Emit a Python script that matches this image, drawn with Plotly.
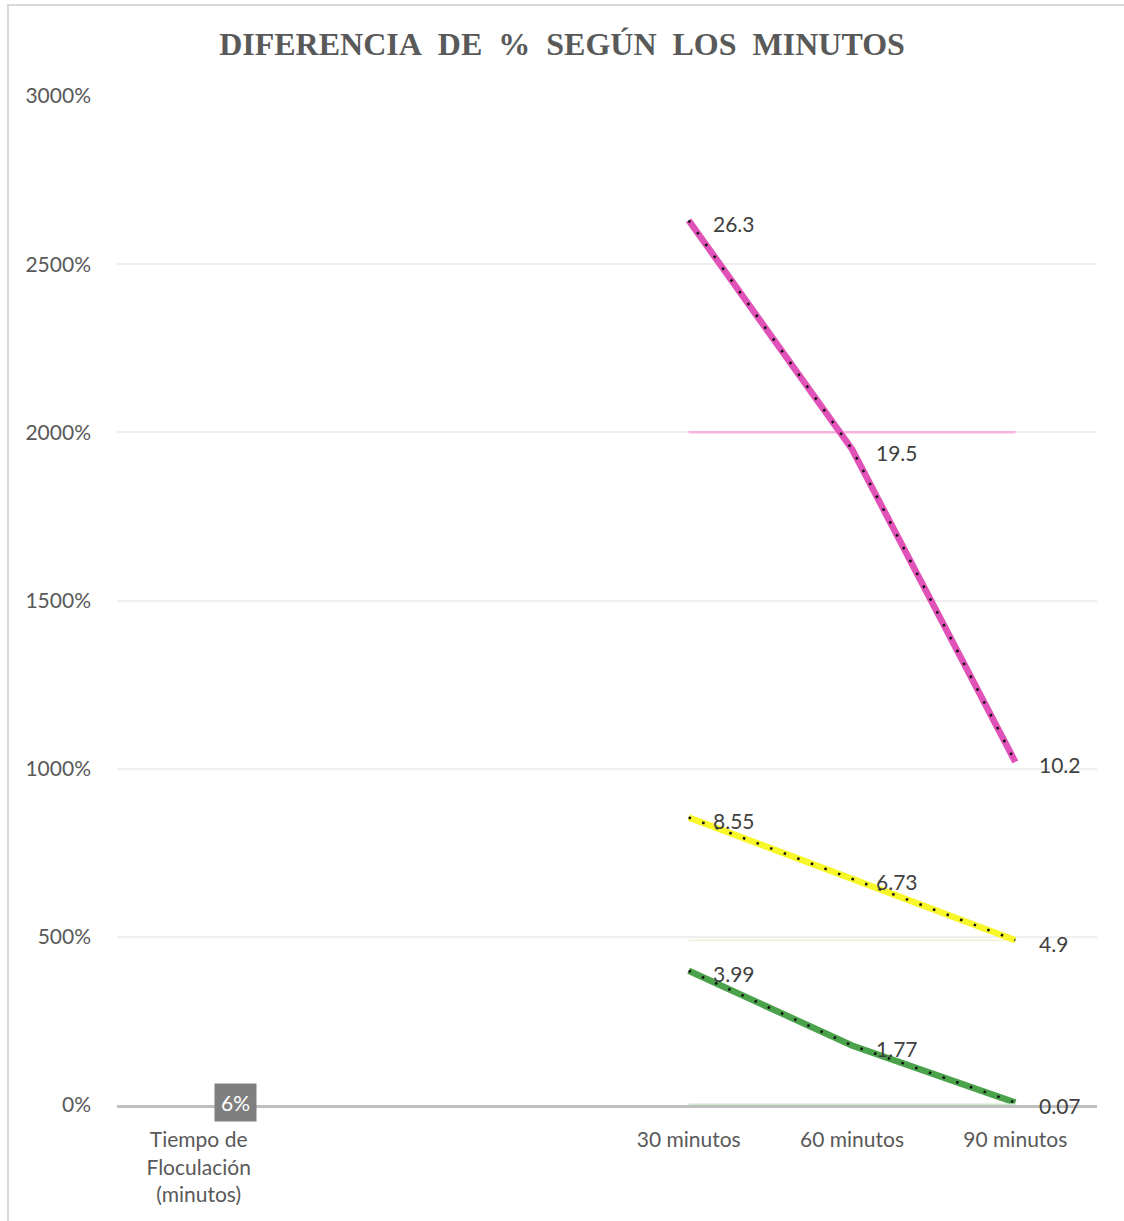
import plotly.graph_objects as go

# ---- data ----
categories = ["Tiempo de<br>Floculación<br>(minutos)", "", "", "30 minutos", "60 minutos", "90 minutos"]
x_idx = list(range(len(categories)))
serie_rosa = [None, None, None, 26.3, 19.5, 10.2]
serie_amarilla = [None, None, None, 8.55, 6.73, 4.9]
serie_verde = [None, None, None, 3.99, 1.77, 0.07]
serie_base = [0.06, None, None, None, None, None]
y_ticks = [0, 5, 10, 15, 20, 25, 30]
title_words = ["DIFERENCIA", "DE", "%", "SEGÚN", "LOS", "MINUTOS"]

TXT = "#595959"
LBL = "#404040"
FONT = "Lato"

fig = go.Figure()

series = [
    (serie_rosa, "#e152b8"),
    (serie_amarilla, "#f7f72a"),
    (serie_verde, "#4aa34a"),
]

i30 = categories.index("30 minutos")
i90 = categories.index("90 minutos")
shapes = [
    dict(type="line", xref="x", yref="y", x0=x_idx[i30], x1=x_idx[i90], y0=y_ticks[4], y1=y_ticks[4],
         line=dict(color="#f5b3de", width=2.5), layer="between"),
    dict(type="line", xref="x", yref="y", x0=x_idx[i30], x1=x_idx[i90], y0=serie_amarilla[-1], y1=serie_amarilla[-1],
         line=dict(color="#f3f3dc", width=2), layer="between"),
    dict(type="line", xref="x", yref="y", x0=x_idx[i30], x1=x_idx[i90], y0=0, y1=0,
         line=dict(color="#cfe8cf", width=3), layer="above"),
    # outer frame (only top & left fall inside the picture)
    dict(type="rect", xref="paper", yref="paper", x0=-0.1112, x1=1.3, y0=-0.4, y1=1.0902,
         line=dict(color="#d9d9d9", width=2), layer="below"),
]

for vals, col in series:
    fig.add_trace(go.Scatter(x=x_idx, y=vals, mode="lines", line=dict(color=col, width=6.5),
                             hoverinfo="skip", showlegend=False))
    fig.add_trace(go.Scatter(x=x_idx, y=vals, mode="lines",
                             line=dict(color="#111111", width=2.5, dash="2.5px,12px"),
                             hoverinfo="skip", showlegend=False))

annotations = []
for vals, col in series:
    for xi, v in zip(x_idx, vals):
        if v is None:
            continue
        annotations.append(dict(x=xi, y=v, xref="x", yref="y", text=f"{v:g}", showarrow=False,
                                xanchor="left", yanchor="middle", xshift=22, yshift=-3,
                                font=dict(family=FONT, size=21, color=LBL)))

for xi, v in zip(x_idx, serie_base):
    if v is None:
        continue
    annotations.append(dict(x=xi, y=v, xref="x", yref="y", text=f"{v:.0%}", showarrow=False,
                            xanchor="left", yanchor="middle", xshift=15,
                            bgcolor="#7f7f7f", borderpad=6,
                            font=dict(family=FONT, size=21, color="white")))

title_text = "<b>" + "\u00a0 ".join(title_words) + "</b>"

fig.update_layout(
    width=1124, height=1221,
    margin=dict(l=117, r=27, t=96, b=116),
    paper_bgcolor="white", plot_bgcolor="white",
    title=dict(text=title_text, x=0.5, xref="container",
               y=1 - 44 / 1221, yanchor="middle",
               font=dict(family="Liberation Serif", size=32, color=TXT)),
    shapes=shapes,
    annotations=annotations,
    showlegend=False,
)

fig.update_xaxes(range=[-0.5, len(categories) - 0.5], tickmode="array", tickvals=x_idx, ticktext=categories,
                 showgrid=False, zeroline=False, showline=True, linecolor="#bfbfbf", linewidth=3,
                 ticks="", ticklabelstandoff=14,
                 tickfont=dict(family=FONT, size=21, color=TXT))
fig.update_yaxes(range=[0, 30], tickmode="array", tickvals=y_ticks, tickformat=".0%",
                 showgrid=True, gridcolor="#efefef", gridwidth=2, zeroline=False, showline=False,
                 ticks="", ticklabelstandoff=25,
                 tickfont=dict(family=FONT, size=21, color=TXT))

fig.write_html("out.html")
